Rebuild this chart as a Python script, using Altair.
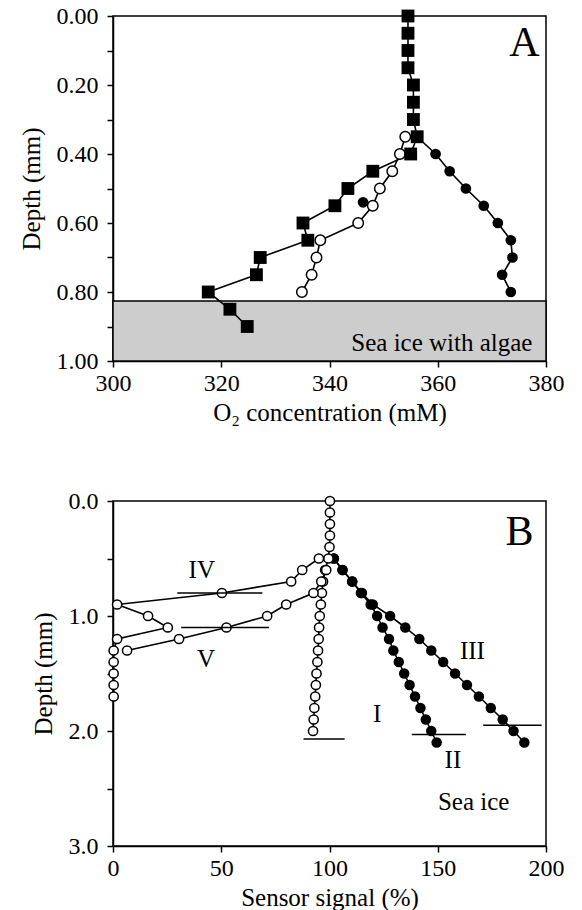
import altair as alt
import pandas as pd

FONT = "Liberation Serif"

# ---------------- Panel A data ----------------
a_sq_depth = [0.00, 0.05, 0.10, 0.15, 0.20, 0.25, 0.30, 0.35, 0.40, 0.45,
              0.50, 0.55, 0.60, 0.65, 0.70, 0.75, 0.80, 0.85, 0.90]
a_sq_o2 = [354.5, 354.5, 354.5, 354.5, 355.5, 355.5, 355.5, 356.2, 355.0, 348.0,
           343.4, 341.0, 335.1, 336.0, 327.2, 326.5, 317.6, 321.6, 324.8]

a_oc_depth = [0.35, 0.40, 0.45, 0.50, 0.55, 0.60, 0.65, 0.70, 0.75, 0.80]
a_oc_o2 = [354.0, 353.0, 351.6, 349.3, 348.0, 345.3, 338.3, 337.6, 336.7, 334.9]

a_fc_depth = [0.35, 0.40, 0.45, 0.50, 0.55, 0.60, 0.65, 0.70, 0.75, 0.80]
a_fc_o2 = [356.2, 359.6, 362.2, 365.2, 368.5, 371.1, 373.5, 373.8, 371.9, 373.5]

a_single_depth = [0.54]
a_single_o2 = [346.2]

a_ice_top = [0.826]
a_ice_bottom = [1.0]

# ---------------- Panel B data ----------------
b_I_depth = [0.0, 0.1, 0.2, 0.3, 0.4, 0.5, 0.6, 0.7, 0.8, 0.9, 1.0,
             1.1, 1.2, 1.3, 1.4, 1.5, 1.6, 1.7, 1.8, 1.9, 2.0]
b_I_sig = [100.2, 100.2, 100.2, 100.2, 100.0, 99.5, 98.0, 97.0, 96.5, 96.0, 95.5,
           95.2, 95.0, 94.7, 94.4, 94.0, 93.7, 93.4, 93.0, 92.7, 92.4]

b_II_depth = [0.5, 0.6, 0.7, 0.8, 0.9, 1.0, 1.1, 1.2, 1.3, 1.4, 1.5,
              1.6, 1.7, 1.8, 1.9, 2.0, 2.1]
b_II_sig = [102, 106, 110.5, 114.5, 119, 122, 124.5, 127.5, 129.5, 132, 134.5,
            137, 139.5, 142, 144.5, 147, 149.5]

b_III_depth = [0.5, 0.6, 0.7, 0.8, 0.9, 1.0, 1.1, 1.2, 1.3, 1.4, 1.5,
               1.6, 1.7, 1.8, 1.9, 2.0, 2.1]
b_III_sig = [102, 106, 110.5, 115, 120, 128, 135, 141.5, 147, 152.5, 158,
             163.5, 169, 174.5, 180, 185, 190]

b_IV_depth = [0.5, 0.6, 0.7, 0.8, 0.9, 1.0, 1.1, 1.2, 1.3, 1.4, 1.5, 1.6, 1.7]
b_IV_sig = [95.1, 87.4, 82.3, 50.3, 1.9, 16.2, 25.3, 1.9, 0.3, 0.3, 0.3, 0.3, 0.3]

b_V_depth = [0.6, 0.7, 0.8, 0.9, 1.0, 1.1, 1.2, 1.3]
b_V_sig = [98.5, 96.2, 92.6, 80.0, 71.2, 52.4, 30.5, 6.5]

b_bar_series = ["I", "II", "III", "IV", "V"]
b_bar_depth = [2.07, 2.03, 1.95, 0.80, 1.10]
b_bar_lo = [88, 138, 171, 29.7, 31.5]
b_bar_hi = [107, 163, 198, 69, 72]

b_lab_text = ["I", "II", "III", "IV", "V", "Sea ice"]
b_lab_sig = [122, 157, 166, 41, 43, 166.6]
b_lab_depth = [1.85, 2.25, 1.30, 0.60, 1.37, 2.62]

# ---------------- build frames ----------------
def frame(series, depth, val, xname):
    return pd.DataFrame({"series": [series] * len(depth), "depth": depth, xname: val})

dfA_sq = frame("sq", a_sq_depth, a_sq_o2, "o2")
dfA_oc = frame("oc", a_oc_depth, a_oc_o2, "o2")
dfA_fc = frame("fc", a_fc_depth, a_fc_o2, "o2")
dfA_single = frame("single", a_single_depth, a_single_o2, "o2")
dfA_lines = pd.concat([dfA_sq, dfA_oc, dfA_fc], ignore_index=True)
dfA_ice = pd.DataFrame({"o2": [300], "o2b": [380], "depth": a_ice_top, "depth2": a_ice_bottom})
dfA_labA = pd.DataFrame({"o2": [376.0], "depth": [0.077], "t": ["A"]})
dfA_labIce = pd.DataFrame({"o2": [377.5], "depth": [0.947], "t": ["Sea ice with algae"]})

dfB_I = frame("I", b_I_depth, b_I_sig, "sig")
dfB_II = frame("II", b_II_depth, b_II_sig, "sig")
dfB_III = frame("III", b_III_depth, b_III_sig, "sig")
dfB_IV = frame("IV", b_IV_depth, b_IV_sig, "sig")
dfB_V = frame("V", b_V_depth, b_V_sig, "sig")
dfB_lines = pd.concat([dfB_I, dfB_II, dfB_III, dfB_IV, dfB_V], ignore_index=True)
dfB_filled = pd.concat([dfB_II, dfB_III], ignore_index=True)
dfB_open = pd.concat([dfB_I, dfB_IV, dfB_V], ignore_index=True)
dfB_bars = pd.DataFrame({"series": b_bar_series, "depth": b_bar_depth,
                         "sig": b_bar_lo, "sig2": b_bar_hi})
dfB_lab = pd.DataFrame({"t": b_lab_text, "sig": b_lab_sig, "depth": b_lab_depth})
dfB_labB = pd.DataFrame({"t": ["B"], "sig": [187.8], "depth": [0.27]})

# ---------------- encodings ----------------
xA = alt.X("o2:Q", scale=alt.Scale(domain=[300, 380], nice=False, zero=False),
           axis=alt.Axis(values=[300, 320, 340, 360, 380], format="d",
                         title="O₂ concentration (mM)"))
yA = alt.Y("depth:Q", scale=alt.Scale(domain=[0, 1], reverse=True, nice=False, zero=False),
           axis=alt.Axis(values=[0, 0.1, 0.2, 0.3, 0.4, 0.5, 0.6, 0.7, 0.8, 0.9, 1.0],
                         labelExpr="round(datum.value*10) % 2 == 0 ? format(datum.value, '.2f') : ''",
                         title="Depth (mm)"))

xB = alt.X("sig:Q", scale=alt.Scale(domain=[0, 200], nice=False, zero=False),
           axis=alt.Axis(values=[0, 50, 100, 150, 200], format="d",
                         title="Sensor signal (%)"))
yB = alt.Y("depth:Q", scale=alt.Scale(domain=[0, 3], reverse=True, nice=False, zero=False),
           axis=alt.Axis(values=[0, 0.5, 1.0, 1.5, 2.0, 2.5, 3.0],
                         labelExpr="round(datum.value*2) % 2 == 0 ? format(datum.value, '.1f') : ''",
                         title="Depth (mm)"))

# ---------------- Panel A ----------------
ice = alt.Chart(dfA_ice).mark_rect(fill="#cdcdcd", stroke="black", strokeWidth=1.5).encode(
    x=xA, x2="o2b:Q", y=yA, y2="depth2:Q")
linesA = alt.Chart(dfA_lines).mark_line(color="black", strokeWidth=1.6).encode(
    x=xA, y=yA, detail="series:N", order="depth:Q")
fcA = alt.Chart(pd.concat([dfA_fc, dfA_single], ignore_index=True)).mark_point(
    shape="circle", filled=True, color="black", size=115, opacity=1).encode(x=xA, y=yA)
ocA = alt.Chart(dfA_oc).mark_point(
    shape="circle", filled=True, fill="white", stroke="black", strokeWidth=1.5,
    size=110, opacity=1).encode(x=xA, y=yA)
sqA = alt.Chart(dfA_sq).mark_point(
    shape="square", filled=True, color="black", size=165, opacity=1).encode(x=xA, y=yA)
labA = alt.Chart(dfA_labA).mark_text(font=FONT, fontSize=42, color="black",
                                     align="center", baseline="middle").encode(
    x=xA, y=yA, text="t:N")
labIce = alt.Chart(dfA_labIce).mark_text(font=FONT, fontSize=25, color="black",
                                         align="right", baseline="middle").encode(
    x=xA, y=yA, text="t:N")

panelA = alt.layer(ice, linesA, fcA, ocA, sqA, labA, labIce).properties(width=433, height=345)

# ---------------- Panel B ----------------
linesB = alt.Chart(dfB_lines).mark_line(color="black", strokeWidth=1.6).encode(
    x=xB, y=yB, detail="series:N", order="depth:Q")
filledB = alt.Chart(dfB_filled).mark_point(
    shape="circle", filled=True, color="black", size=110, opacity=1).encode(x=xB, y=yB)
openB = alt.Chart(dfB_open).mark_point(
    shape="circle", filled=True, fill="white", stroke="black", strokeWidth=1.5,
    size=85, opacity=1).encode(x=xB, y=yB)
barsB = alt.Chart(dfB_bars).mark_rule(color="black", strokeWidth=1.6).encode(
    x=xB, x2="sig2:Q", y=yB)
labB = alt.Chart(dfB_lab).mark_text(font=FONT, fontSize=25, color="black",
                                    align="center", baseline="middle").encode(
    x=xB, y=yB, text="t:N")
labBig = alt.Chart(dfB_labB).mark_text(font=FONT, fontSize=42, color="black",
                                       align="center", baseline="middle").encode(
    x=xB, y=yB, text="t:N")

panelB = alt.layer(linesB, filledB, openB, barsB, labB, labBig).properties(width=433, height=345)

chart = alt.vconcat(panelA, panelB, spacing=62).properties(
    padding={"left": 18, "top": 3, "right": 5, "bottom": 0}
).configure_view(
    stroke="black", strokeWidth=1.5
).configure_axis(
    grid=False,
    domainColor="black", domainWidth=1.5,
    tickColor="black", tickWidth=1.5, tickSize=6,
    labelFont=FONT, labelFontSize=24, labelColor="black", labelPadding=9,
    titleFont=FONT, titleFontSize=25, titleColor="black", titleFontWeight="normal",
    labelFlush=False, labelOverlap=False
).configure_axisY(
    titlePadding=12
).configure_axisX(
    labelPadding=4, titlePadding=5
)

chart.save("out.html", embed_options={"renderer": "svg", "actions": False})
